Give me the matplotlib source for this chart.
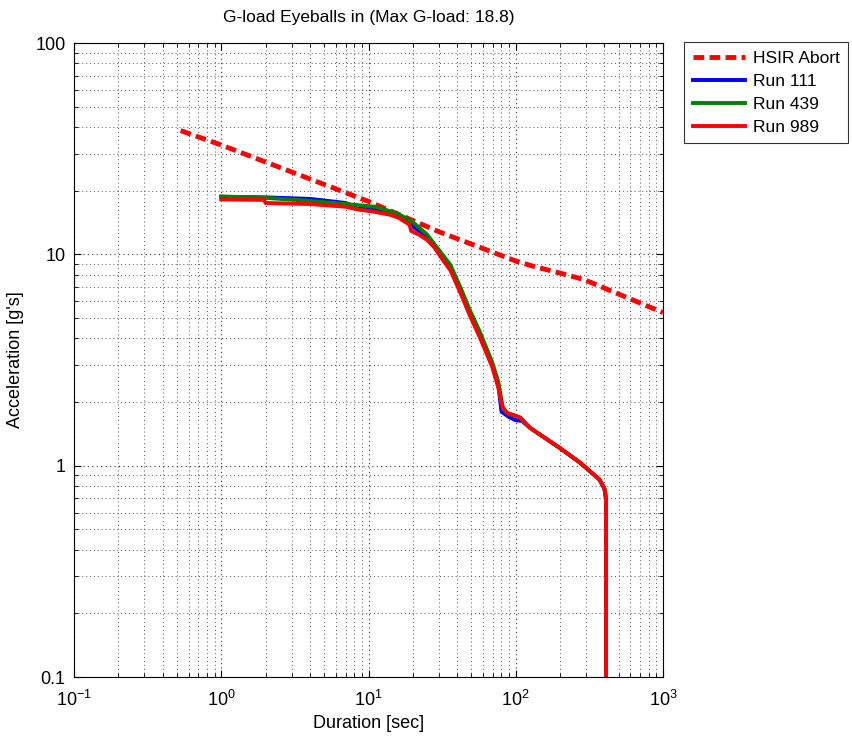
import matplotlib
matplotlib.use("Agg")
import matplotlib.pyplot as plt
from matplotlib.ticker import LogLocator, FixedLocator, FixedFormatter, NullFormatter

plt.rcParams['font.family'] = ['Liberation Sans', 'DejaVu Sans']
plt.rcParams['mathtext.fontset'] = 'custom'
plt.rcParams['mathtext.rm'] = 'Liberation Sans'
plt.rcParams['mathtext.it'] = 'Liberation Sans'
plt.rcParams['mathtext.default'] = 'regular'

# HSIR Abort limit
abort_x = [0.53, 1.0, 10.0, 30.0, 100.0, 130.0, 200.0, 290.0, 1000.0]
abort_y = [38.5, 32.9, 17.8, 12.8, 9.3, 8.8, 8.15, 7.6, 5.3]

# Run 111
r111_x = [1.0, 2.0, 4.0, 7.0, 8.4, 11, 14, 16, 20, 25, 31, 36, 42, 49, 57, 69, 76, 80, 90, 100,
          110, 125, 200, 275, 370, 400, 410, 410]
r111_y = [18.7, 18.6, 18.3, 17.5, 16.6, 16.2, 15.6, 15.1, 13.6, 12.0, 9.9, 8.6, 6.8, 5.3, 4.2,
          3.0, 2.45, 1.8, 1.7, 1.64, 1.63, 1.51, 1.21, 1.03, 0.86, 0.78, 0.70, 0.1]

# Run 439
r439_x = [1.0, 2.0, 4.0, 8.4, 11, 14, 16, 20, 25, 31, 36, 42, 49, 57, 69, 76, 82, 90, 100,
          107, 125, 200, 275, 370, 400, 410, 410]
r439_y = [18.8, 18.5, 17.9, 17.1, 16.8, 16.0, 15.5, 14.2, 12.4, 10.2, 8.9, 7.0, 5.4, 4.3, 3.1,
          2.5, 1.85, 1.75, 1.72, 1.69, 1.51, 1.21, 1.03, 0.86, 0.78, 0.70, 0.1]

# Run 989
r989_x = [1.0, 1.95, 2.0, 4.0, 7.0, 8.5, 11, 14, 16, 19, 19.5, 22, 25, 28, 31, 36, 42, 49, 57,
          69, 76, 81, 87, 100, 107, 125, 200, 275, 370, 400, 410, 410]
r989_y = [18.2, 18.1, 17.5, 17.3, 16.8, 16.3, 15.9, 15.4, 14.9, 13.8, 12.9, 12.4, 11.7, 10.8,
          9.7, 8.4, 6.6, 5.1, 4.05, 2.95, 2.35, 1.9, 1.78, 1.72, 1.69, 1.51, 1.21, 1.03, 0.86,
          0.78, 0.70, 0.1]

x_ticks = [0.1, 1, 10, 100, 1000]
x_tick_labels = ['$10^{-1}$', '$10^{0}$', '$10^{1}$', '$10^{2}$', '$10^{3}$']
y_ticks = [0.1, 1, 10, 100]
y_tick_labels = ['0.1', '1', '10', '100']

fig = plt.figure(figsize=(8.52, 7.40), dpi=100)
ax = fig.add_axes([74/852, 63/740, (663-74)/852, (677-43)/740])

ax.plot(abort_x, abort_y, color='#ff0000', lw=3.5, ls=(0, (2.2, 1.1)), label='HSIR Abort')
ax.plot(r111_x, r111_y, color='#0000ff', lw=2.8, label='Run 111')
ax.plot(r439_x, r439_y, color='#008000', lw=2.8, label='Run 439')
ax.plot(r989_x, r989_y, color='#ff0000', lw=2.8, label='Run 989')

ax.set_xscale('log')
ax.set_yscale('log')
ax.set_xlim(0.1, 1000)
ax.set_ylim(0.1, 100)

ax.xaxis.set_major_locator(FixedLocator(x_ticks))
ax.xaxis.set_major_formatter(FixedFormatter(x_tick_labels))
ax.yaxis.set_major_locator(FixedLocator(y_ticks))
ax.yaxis.set_major_formatter(FixedFormatter(y_tick_labels))
ax.yaxis.set_minor_locator(LogLocator(base=10, subs=range(2, 10), numticks=20))
ax.yaxis.set_minor_formatter(NullFormatter())
ax.xaxis.set_minor_locator(LogLocator(base=10, subs=range(2, 10), numticks=20))
ax.xaxis.set_minor_formatter(NullFormatter())

ax.grid(True, which='major', ls=(0, (1, 3)), color='#333333', lw=0.8)
ax.grid(True, which='minor', ls=(0, (1, 3)), color='#555555', lw=0.7)

ax.tick_params(which='both', direction='in', top=True, right=True, labelsize=13, colors='black')
ax.tick_params(axis='x', which='major', pad=9)
ax.tick_params(axis='y', which='major', pad=6)
ax.tick_params(which='major', length=5)
ax.tick_params(which='minor', length=3)
for s in ax.spines.values():
    s.set_linewidth(0.8)

ax.set_title('G-load Eyeballs in (Max G-load: 18.8)', fontsize=12.5, pad=15)
ax.set_xlabel('Duration [sec]', fontsize=13, labelpad=4)
ax.set_ylabel("Acceleration [g's]", fontsize=13, labelpad=8)

leg = fig.legend(loc='upper left', bbox_to_anchor=(684/852, 1 - 42/740), fontsize=12.5,
                 handlelength=3.0, frameon=True, fancybox=False, edgecolor='black',
                 borderpad=0.5, labelspacing=0.45, handletextpad=0.45, borderaxespad=0)
leg.get_frame().set_linewidth(0.8)

fig.savefig('out.png', dpi=100)
